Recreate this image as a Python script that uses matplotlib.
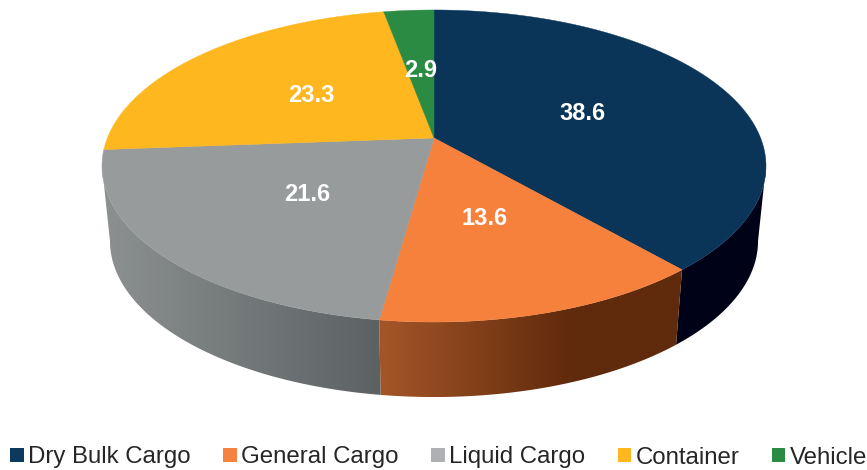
import numpy as np
import matplotlib
matplotlib.use("Agg")
import matplotlib.pyplot as plt
from matplotlib.patches import Patch, Polygon

categories = ["Dry Bulk Cargo", "General Cargo", "Liquid Cargo", "Container", "Vehicle"]
values = [38.6, 13.6, 21.6, 23.3, 2.9]
top_colors = ["#0a3558", "#f5813c", "#979b9b", "#feb71f", "#2c8b43"]
legend_colors = ["#0b3a5e", "#f58240", "#aeb0b3", "#feb71f", "#2c8b43"]

plt.rcParams["font.family"] = ["Liberation Sans", "DejaVu Sans"]
fig = plt.figure(figsize=(8.67, 4.7), dpi=100)
ax = fig.add_axes([0, 0, 1, 1])
ax.set_xlim(0, 867)
ax.set_ylim(470, 0)
ax.axis("off")

CX, CY, A, B, K = 434.0, 138.0, 326.6, 151.0, 0.1795
DEPTH, SHRINK = 75.0, 0.976


def project(theta, r=1.0):
    """Clockwise angle from 12 o'clock on the unit disc, to the picture."""
    X = r * np.sin(theta)
    Y = r * np.cos(theta)
    w = 1 + K * Y
    return CX + A * X / w, CY - B * Y / w


def side_rgb(i, x):
    x = np.asarray(x, dtype=float)
    if i == 0:
        r, g, b = np.zeros_like(x), np.full_like(x, 3.0), np.full_like(x, 24.0)
    elif i == 1:
        r = np.interp(x, [380, 570], [165, 96])
        g = np.interp(x, [380, 570], [86, 42])
        b = np.interp(x, [380, 570], [40, 12])
    else:
        r = np.interp(x, [105, 380], [140, 92])
        g = np.interp(x, [105, 380], [144, 97])
        b = np.interp(x, [105, 380], [144, 100])
    return np.dstack([r, g, b]) / 255


edges = np.concatenate([[0], np.cumsum(values)]) / sum(values) * 2 * np.pi

# The wall shows only between the two silhouette angles of the disc
front0 = np.arccos(-K)
front1 = 2 * np.pi - front0

# Rim: each wedge's wall is a horizontal gradient clipped to the wall outline
for i in range(len(values)):
    t0, t1 = max(edges[i], front0), min(edges[i + 1], front1)
    if t1 <= t0:
        continue
    th = np.linspace(t0, t1, 200)
    x, y = project(th)
    xb = CX + (x - CX) * SHRINK
    yb = y + DEPTH
    outline = np.column_stack([np.r_[x, xb[::-1]], np.r_[y, yb[::-1]]])
    x0, x1 = outline[:, 0].min(), outline[:, 0].max()
    y0, y1 = outline[:, 1].min(), outline[:, 1].max()
    grad = side_rgb(i, np.linspace(x0, x1, 400))
    clip = Polygon(outline, closed=True, transform=ax.transData, fc="none", ec="none")
    ax.add_patch(clip)
    im = ax.imshow(grad, extent=(x0, x1, y1, y0), aspect="auto", zorder=1, interpolation="bilinear")
    im.set_clip_path(clip)
ax.set_xlim(0, 867)
ax.set_ylim(470, 0)

# Top face
for i in range(len(values)):
    th = np.linspace(edges[i], edges[i + 1], 200)
    x, y = project(th)
    ax.fill(np.r_[CX, x], np.r_[CY, y], color=top_colors[i], lw=0.3, zorder=2)

# Value labels
for i, v in enumerate(values):
    lx, ly = project(0.5 * (edges[i] + edges[i + 1]), 0.5)
    ax.text(lx, ly + 1.5, f"{v:.1f}", color="white", fontsize=17, fontweight="bold",
            ha="center", va="center", zorder=3)

handles = [Patch(facecolor=c, edgecolor="none") for c in legend_colors]
fig.legend(handles, categories, ncol=5, loc="center", bbox_to_anchor=(439 / 867, 1 - 457.5 / 470),
           frameon=False, fontsize=17.3, labelcolor="#262626", handlelength=0.55, handleheight=0.55,
           handletextpad=0.2, columnspacing=1.35, borderpad=0, borderaxespad=0)

fig.savefig("out.png", dpi=100)
